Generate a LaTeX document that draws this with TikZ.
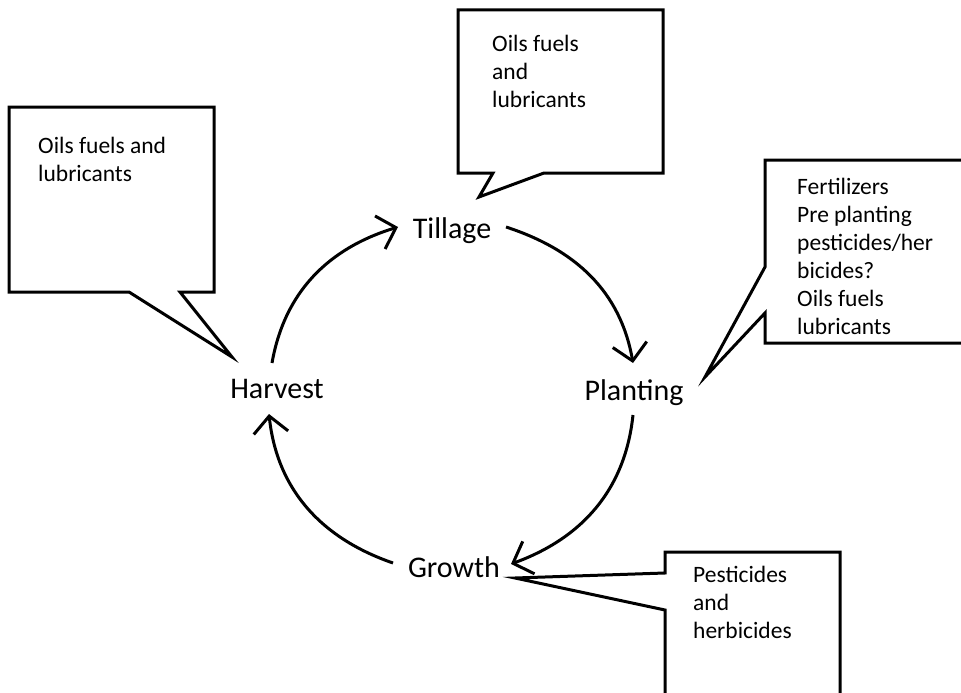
\documentclass[tikz,border=0pt]{standalone}
\usepackage{fontspec}
\setmainfont{Carlito}
\usetikzlibrary{arrows.meta}

\begin{document}
\begin{tikzpicture}[x=1pt, y=1pt,
    stage/.style={inner sep=0pt, anchor=base, font=\fontsize{30}{36}\selectfont},
    note/.style={inner sep=0pt, anchor=base west, align=left, font=\fontsize{23.5}{28}\selectfont},
    balloon/.style={line width=3pt, line join=miter},
    stagearrow/.style={line width=3pt, -{Straight Barb[angle=92:24pt]}}]
    \useasboundingbox (0,0) rectangle (961,-693);
    \clip (0,0) rectangle (961,-693);

    % the four stages
    \node[stage] (tillage) at (452,-238) {Tillage};
    \node[stage] (planting) at (634,-400) {Planting};
    \node[stage] (growth) at (454,-577) {Growth};
    \node[stage] (harvest) at (277,-398) {Harvest};

    % arrows round the cycle
    \draw[stagearrow] ([shift={(-5,35)}]harvest.base) to[out=80,in=197] ([shift={(-54,11)}]tillage.base);
    \draw[stagearrow] ([shift={(54,11)}]tillage.base) to[out=-18,in=100] ([shift={(-1,37)}]planting.base);
    \draw[stagearrow] ([shift={(-1,-15)}]planting.base) to[out=-96,in=20] ([shift={(57,13)}]growth.base);
    \draw[stagearrow] ([shift={(-61,14)}]growth.base) to[out=161,in=-84] ([shift={(-8,-16)}]harvest.base);

    % speech balloons with the inputs of each stage
    % (a note's base is the baseline of its last line)
    \draw[balloon] (9,-107) -- (214,-107) -- (214,-292) -- (180,-292)
        -- ([shift={(-45,41)}]harvest.base) -- (129,-292) -- (9,-292) -- cycle;
    \node[note] (harvestnote) at (38,-181) {Oils fuels and\\lubricants};

    \draw[balloon] (458,-10) -- (663,-10) -- (663,-173) -- (544,-173)
        -- ([shift={(27,41)}]tillage.base) -- (493,-173) -- (458,-173) -- cycle;
    \node[note] (tillagenote) at (492,-107) {Oils fuels\\and\\lubricants};

    \draw[balloon] (765,-160) -- (975,-160) -- (975,-343) -- (765,-343) -- (765,-313)
        -- ([shift={(71,23)}]planting.base) -- (765,-267) -- cycle;
    \node[note] (plantingnote) at (797,-334) {Fertilizers\\Pre planting\\pesticides/her\\bicides?\\Oils fuels\\lubricants};

    \draw[balloon] (665,-552) -- (840,-552) -- (840,-710) -- (665,-710) -- (665,-610)
        -- ([shift={(61,-1)}]growth.base) -- (665,-573) -- cycle;
    \node[note] (growthnote) at (693,-638) {Pesticides\\and\\herbicides};
\end{tikzpicture}
\end{document}
